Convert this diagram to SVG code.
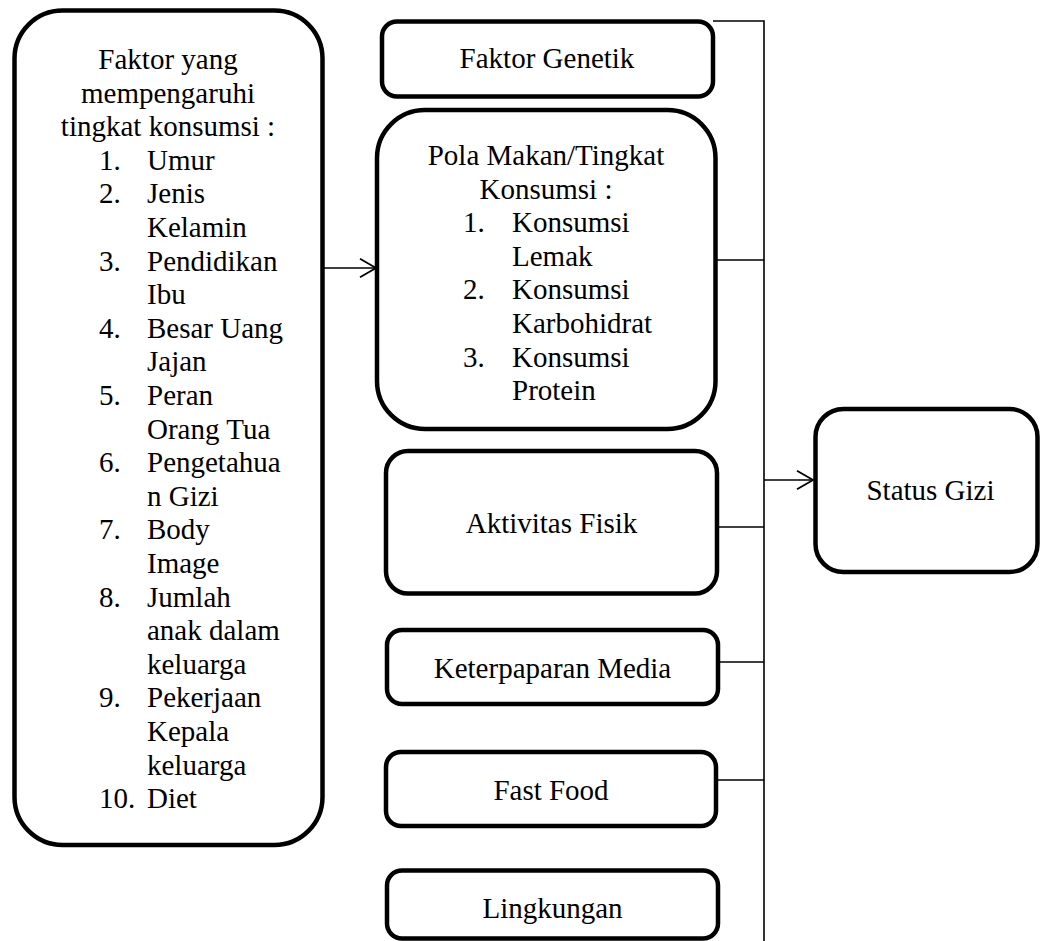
<svg xmlns="http://www.w3.org/2000/svg" width="1040" height="941" viewBox="0 0 1040 941">
<defs>
<marker id="arr" viewBox="0 0 18 20" refX="17" refY="10" markerWidth="18" markerHeight="20" markerUnits="userSpaceOnUse" orient="auto">
<path d="M1,0.8 L17,10 L1,19.2" fill="none" stroke="#000" stroke-width="1.8"/>
</marker>
</defs>
<style>
.box{fill:#fff;stroke:#000;stroke-width:4.5}
.t{font-family:"Liberation Serif","Times New Roman",serif;font-size:29px;fill:#000}
.c{text-anchor:middle}
.ln{fill:none;stroke:#000;stroke-width:1.6}
</style>
<rect width="1040" height="941" fill="#fff"/>
<g id="connectors">
<path class="ln" d="M713,21 H764 V941"/>
<path class="ln" d="M717,260 H764"/>
<path class="ln" d="M719,527 H764"/>
<path class="ln" d="M720,662 H764"/>
<path class="ln" d="M718,780 H764"/>
<path class="ln" d="M764,480 H813" marker-end="url(#arr)"/>
<path class="ln" d="M324,268 H376" marker-end="url(#arr)"/>
</g>
<g id="faktor-konsumsi">
<rect class="box" x="14.5" y="10.5" width="308" height="834.5" rx="48"/>
<text class="t c" x="168" y="69">Faktor yang</text>
<text class="t c" x="168" y="102.6">mempengaruhi</text>
<text class="t c" x="168" y="136.2">tingkat konsumsi :</text>
<text class="t" x="99" y="169.8">1.</text><text class="t" x="147" y="169.8">Umur</text>
<text class="t" x="99" y="203.4">2.</text><text class="t" x="147" y="203.4">Jenis</text>
<text class="t" x="147" y="237">Kelamin</text>
<text class="t" x="99" y="270.6">3.</text><text class="t" x="147" y="270.6">Pendidikan</text>
<text class="t" x="147" y="304.2">Ibu</text>
<text class="t" x="99" y="337.8">4.</text><text class="t" x="147" y="337.8">Besar Uang</text>
<text class="t" x="147" y="371.4">Jajan</text>
<text class="t" x="99" y="405">5.</text><text class="t" x="147" y="405">Peran</text>
<text class="t" x="147" y="438.6">Orang Tua</text>
<text class="t" x="99" y="472.2">6.</text><text class="t" x="147" y="472.2">Pengetahua</text>
<text class="t" x="147" y="505.8">n Gizi</text>
<text class="t" x="99" y="539.4">7.</text><text class="t" x="147" y="539.4">Body</text>
<text class="t" x="147" y="573">Image</text>
<text class="t" x="99" y="606.6">8.</text><text class="t" x="147" y="606.6">Jumlah</text>
<text class="t" x="147" y="640.2">anak dalam</text>
<text class="t" x="147" y="673.8">keluarga</text>
<text class="t" x="99" y="707.4">9.</text><text class="t" x="147" y="707.4">Pekerjaan</text>
<text class="t" x="147" y="741">Kepala</text>
<text class="t" x="147" y="774.6">keluarga</text>
<text class="t" x="99" y="808.2">10.</text><text class="t" x="147" y="808.2">Diet</text>
</g>
<g id="faktor-genetik">
<rect class="box" x="382" y="21.5" width="331" height="75" rx="15"/>
<text class="t c" x="547" y="68">Faktor Genetik</text>
</g>
<g id="pola-makan">
<rect class="box" x="377" y="110" width="338.5" height="319" rx="48"/>
<text class="t c" x="546" y="165">Pola Makan/Tingkat</text>
<text class="t c" x="546" y="198.6">Konsumsi :</text>
<text class="t" x="463" y="232.2">1.</text><text class="t" x="512" y="232.2">Konsumsi</text>
<text class="t" x="512" y="265.8">Lemak</text>
<text class="t" x="463" y="299.4">2.</text><text class="t" x="512" y="299.4">Konsumsi</text>
<text class="t" x="512" y="333">Karbohidrat</text>
<text class="t" x="463" y="366.6">3.</text><text class="t" x="512" y="366.6">Konsumsi</text>
<text class="t" x="512" y="400.2">Protein</text>
</g>
<g id="aktivitas-fisik">
<rect class="box" x="386" y="451" width="331" height="142.5" rx="22"/>
<text class="t c" x="551.5" y="533">Aktivitas Fisik</text>
</g>
<g id="keterpaparan-media">
<rect class="box" x="387" y="630" width="331" height="74" rx="15"/>
<text class="t c" x="552.5" y="678">Keterpaparan Media</text>
</g>
<g id="fast-food">
<rect class="box" x="386" y="752" width="330" height="74" rx="15"/>
<text class="t c" x="551" y="800">Fast Food</text>
</g>
<g id="lingkungan">
<rect class="box" x="387" y="870.5" width="331" height="68" rx="15"/>
<text class="t c" x="552.5" y="918">Lingkungan</text>
</g>
<g id="status-gizi">
<rect class="box" x="815.5" y="409" width="222" height="163" rx="28"/>
<text class="t c" x="930.5" y="500">Status Gizi</text>
</g>
</svg>
